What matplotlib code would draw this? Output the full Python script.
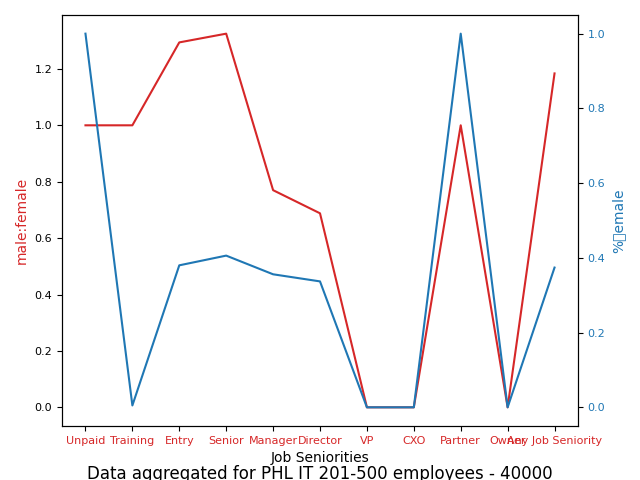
import matplotlib
matplotlib.use("Agg")
import matplotlib.pyplot as plt

seniorities = ["Unpaid", "Training", "Entry", "Senior", "Manager", "Director",
               "VP", "CXO", "Partner", "Owner", "Any Job Seniority"]
male_female = [1.0, 1.0, 1.294, 1.325, 0.77, 0.688, 0.0, 0.0, 1.0, 0.0, 1.184]
pct_female = [1.0, 0.005, 0.38, 0.406, 0.356, 0.337, 0.0, 0.0, 1.0, 0.0, 0.374]

plt.rcParams["xtick.labelsize"] = 8
plt.rcParams["ytick.labelsize"] = 8

fig = plt.figure(figsize=(6.4, 4.8), dpi=100)
ax1 = fig.add_axes([0.0969, 0.1125, 0.8062, 0.8563])
ax2 = ax1.twinx()

ax1.plot(seniorities, male_female, color="tab:red")
ax1.set_xlabel("Job Seniorities")
ax1.set_ylabel("male:female", color="tab:red")
ax1.tick_params(axis="x", labelcolor="tab:red")

ax2.plot(seniorities, pct_female, color="tab:blue")
ax2.set_ylabel("%\female", color="tab:blue")
ax2.tick_params(axis="y", labelcolor="tab:blue")

fig.text(0.5, 1 - 479 / 480, "Data aggregated for PHL IT 201-500 employees - 40000",
         ha="center", va="baseline", fontsize=12)

fig.savefig("out.png", dpi=100)
